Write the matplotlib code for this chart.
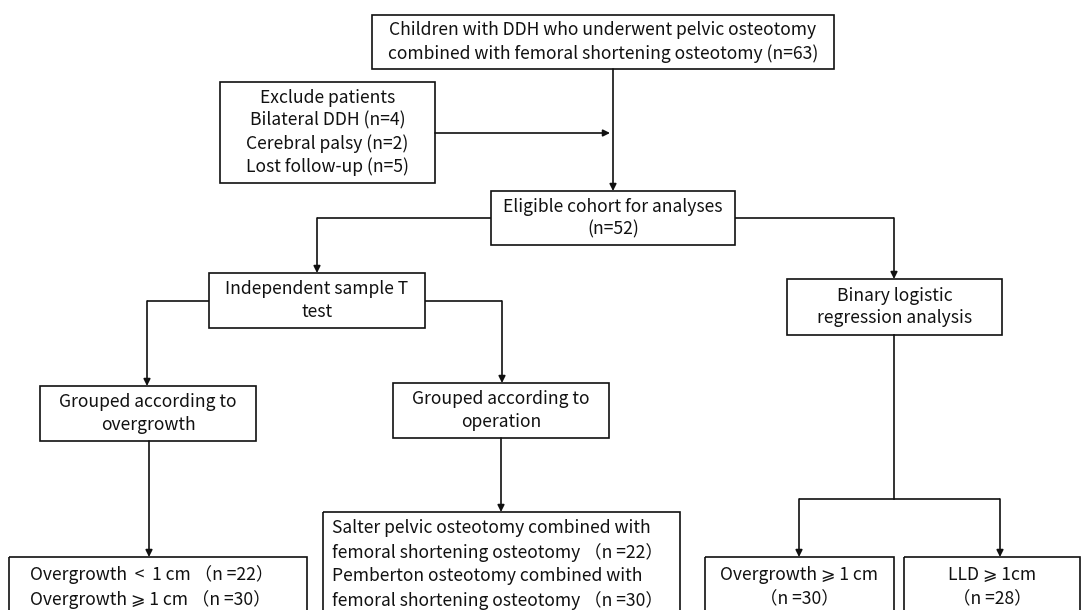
import matplotlib
matplotlib.use('Agg')
import matplotlib.pyplot as plt
from matplotlib.patches import Rectangle

plt.rcParams['font.family'] = ['Noto Sans CJK SC', 'DejaVu Sans']

# Textos de las cajas
top_text = 'Children with DDH who underwent pelvic osteotomy\ncombined with femoral shortening osteotomy (n=63)'
exclude_text = 'Exclude patients\nBilateral DDH (n=4)\nCerebral palsy (n=2)\nLost follow-up (n=5)'
eligible_text = 'Eligible cohort for analyses\n(n=52)'
ttest_text = 'Independent sample T\ntest'
binary_text = 'Binary logistic\nregression analysis'
group_over_text = 'Grouped according to\novergrowth'
group_op_text = 'Grouped according to\noperation'
over_lines = ['Overgrowth  <  1 cm （n =22）',
              'Overgrowth ⩾ 1 cm （n =30）']
op_lines = ['Salter pelvic osteotomy combined with',
            'femoral shortening osteotomy （n =22）',
            'Pemberton osteotomy combined with',
            'femoral shortening osteotomy （n =30）']
reg_over_text = 'Overgrowth ⩾ 1 cm\n（n =30）'
lld_text = 'LLD ⩾ 1cm\n（n =28）'

W, H = 1084, 610
fig = plt.figure(figsize=(W / 100, H / 100), dpi=100)
ax = fig.add_axes([0, 0, 1, 1])
ax.set_xlim(0, W)
ax.set_ylim(H, 0)
ax.axis('off')

LW = 1.2
FS = 12.6
LS = 1.33


def box(x0, y0, x1, y1):
    ax.add_patch(Rectangle((x0, y0), x1 - x0, y1 - y0, fill=False,
                           edgecolor='#111111', lw=LW, zorder=2))


def centered(x0, y0, x1, y1, txt):
    box(x0, y0, x1, y1)
    ax.text((x0 + x1) / 2, (y0 + y1) / 2, txt, ha='center', va='center',
            fontsize=FS, linespacing=LS, color='#111111')


def path(pts, arrow=True):
    xs = [p[0] for p in pts]
    ys = [p[1] for p in pts]
    if arrow:
        ax.plot(xs[:-1], ys[:-1], color='#111111', lw=LW, solid_capstyle='butt')
        ax.annotate('', xy=pts[-1], xytext=pts[-2],
                    arrowprops=dict(arrowstyle='-|>', color='#111111', lw=LW,
                                    mutation_scale=10, shrinkA=0, shrinkB=0))
    else:
        ax.plot(xs, ys, color='#111111', lw=LW)


# cajas
centered(372, 15, 834, 69, top_text)
centered(220, 82, 435, 183, exclude_text)
centered(491, 191, 735, 245, eligible_text)
centered(209, 273, 425, 328, ttest_text)
centered(787, 279, 1002, 335, binary_text)
centered(40, 386, 256, 441, group_over_text)
centered(393, 383, 609, 438, group_op_text)

# cajas inferiores (cortadas por el borde)
box(9, 557, 307, 640)
for i, t in enumerate(over_lines):
    ax.text(30, 575 + i * 24.5, t, ha='left', va='center', fontsize=FS, color='#111111')
box(323, 512, 680, 640)
for i, t in enumerate(op_lines):
    ax.text(332, 528 + i * 24.2, t, ha='left', va='center', fontsize=FS, color='#111111')
box(705, 557, 894, 640)
for i, t in enumerate(reg_over_text.split('\n')):
    ax.text(799.5, 575 + i * 24.5, t, ha='center', va='center', fontsize=FS, color='#111111')
box(904, 557, 1080, 640)
for i, t in enumerate(lld_text.split('\n')):
    ax.text(992, 575 + i * 24.5, t, ha='center', va='center', fontsize=FS, color='#111111')

# conectores
path([(613, 69), (613, 191)])
path([(435, 133), (610, 133)])
path([(491, 218), (317, 218), (317, 273)])
path([(735, 218), (894, 218), (894, 279)])
path([(209, 301), (147, 301), (147, 386)])
path([(425, 301), (502, 301), (502, 383)])
path([(149, 441), (149, 557)])
path([(501, 438), (501, 512)])
path([(894, 335), (894, 499)], arrow=False)
path([(894, 499), (799, 499), (799, 557)])
path([(894, 499), (1000, 499), (1000, 557)])

fig.savefig('out.png', dpi=100, facecolor='white')
